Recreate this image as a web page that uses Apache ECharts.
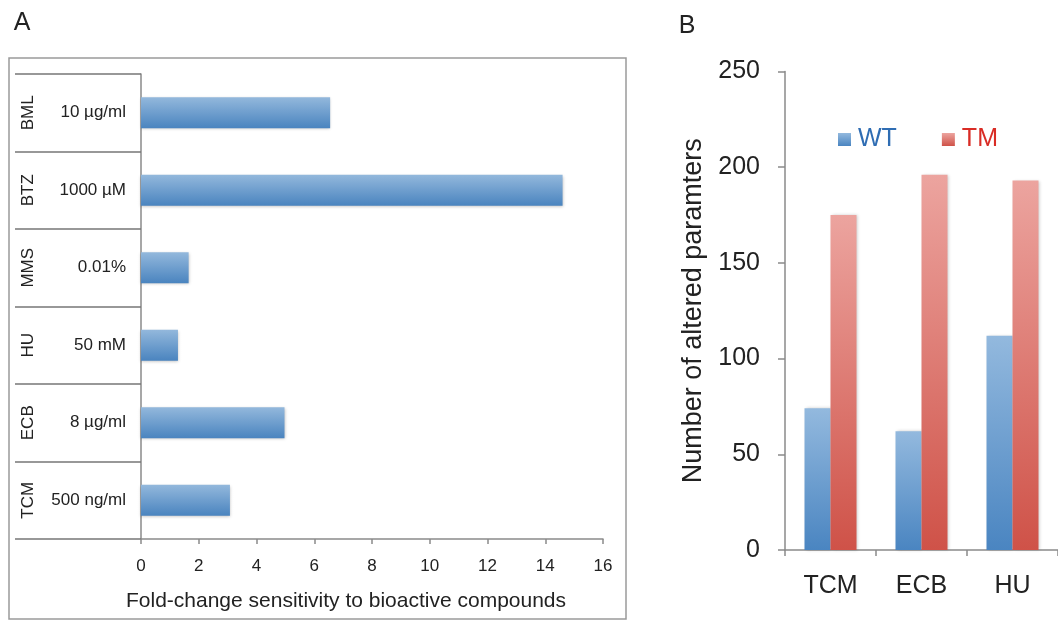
<!DOCTYPE html>
<html>
<head>
<meta charset="utf-8">
<script src="https://cdn.jsdelivr.net/npm/echarts@6/dist/echarts.min.js"></script>
<style>html,body{margin:0;padding:0;background:#fff}#c{width:1058px;height:621px}</style>
</head>
<body>
<div id="c"></div>
<script>
// Panel A data (top to bottom)
const drugsA = ['BML', 'BTZ', 'MMS', 'HU', 'ECB', 'TCM'];
const concA = ['10 µg/ml', '1000 µM', '0.01%', '50 mM', '8 µg/ml', '500 ng/ml'];
const foldChange = [6.55, 14.6, 1.65, 1.28, 4.97, 3.08];
const xTicksA = { min: 0, max: 16, interval: 2 };
// Panel B data
const catsB = ['TCM', 'ECB', 'HU'];
const wtValues = [74, 62, 112];
const tmValues = [175, 196, 193];
const yTicksB = { min: 0, max: 250, interval: 50 };

const FONT = '"Liberation Sans", Arial, Helvetica, sans-serif';
const grad = (c1, c2) => new echarts.graphic.LinearGradient(0, 0, 0, 1, [{offset: 0, color: c1}, {offset: 1, color: c2}]);
const blueA = grad('#93b8dc', '#4a84bf');
const blueB = grad('#93b9de', '#4a85c1');
const redB = grad('#eca49f', '#cf5248');
const axisGrey = '#8a8a8a';

const chart = echarts.init(document.getElementById('c'), null, {renderer: 'canvas'});
chart.setOption({
  animation: false,
  backgroundColor: '#fff',
  textStyle: {fontFamily: FONT},
  grid: [
    {left: 141, right: 455, top: 74, bottom: 82},
    {left: 785, right: 0, top: 71.5, bottom: 71}
  ],
  legend: {
    data: [
      {name: 'WT', textStyle: {color: '#2f6db3'}},
      {name: 'TM', textStyle: {color: '#d92c25'}}
    ],
    left: 833, top: 122, itemWidth: 13, itemHeight: 13, itemGap: 45, icon: 'rect',
    textStyle: {fontSize: 25, fontFamily: FONT, padding: [0, 0, 0, 2]}
  },
  xAxis: [
    {gridIndex: 0, type: 'value', min: xTicksA.min, max: xTicksA.max, interval: xTicksA.interval,
     axisLine: {show: true, lineStyle: {color: axisGrey, width: 1.5}},
     axisTick: {show: true, length: 5, lineStyle: {color: axisGrey, width: 1.5}},
     axisLabel: {fontSize: 17, color: '#222', margin: 19},
     splitLine: {show: false}},
    {gridIndex: 1, type: 'category', data: catsB,
     axisLine: {lineStyle: {color: axisGrey, width: 1.5}},
     axisTick: {show: true, length: 6, lineStyle: {color: axisGrey, width: 1.5}},
     axisLabel: {fontSize: 25, color: '#222', margin: 24}}
  ],
  yAxis: [
    {gridIndex: 0, type: 'category', data: concA, inverse: true,
     axisLine: {show: true, onZero: false, lineStyle: {color: axisGrey, width: 1.5}},
     axisTick: {show: true, length: 126, lineStyle: {color: '#777', width: 1.5}},
     axisLabel: {fontSize: 17, color: '#222', margin: 15}},
    {gridIndex: 0, type: 'category', data: drugsA, inverse: true, position: 'left',
     axisLine: {show: false}, axisTick: {show: false},
     axisLabel: {fontSize: 17, color: '#222', rotate: 90, margin: 113, align: 'center', verticalAlign: 'middle'}},
    {gridIndex: 1, type: 'value', min: yTicksB.min, max: yTicksB.max, interval: yTicksB.interval,
     name: 'Number of altered paramters', nameLocation: 'middle', nameGap: 78,
     nameTextStyle: {fontSize: 27, color: '#222'},
     axisLine: {show: true, lineStyle: {color: axisGrey, width: 1.5}},
     axisTick: {show: true, length: 7, lineStyle: {color: axisGrey, width: 1.5}},
     axisLabel: {fontSize: 25, color: '#222', margin: 25},
     splitLine: {show: false}}
  ],
  series: [
    {type: 'bar', xAxisIndex: 0, yAxisIndex: 0, data: foldChange, barWidth: 31,
     itemStyle: {color: blueA, shadowBlur: 3, shadowColor: 'rgba(0,0,0,0.25)', shadowOffsetY: 1}},
    {name: 'WT', type: 'bar', xAxisIndex: 1, yAxisIndex: 2, data: wtValues, barWidth: 26, barGap: '0%',
     itemStyle: {color: blueB, shadowBlur: 3, shadowColor: 'rgba(0,0,0,0.2)', shadowOffsetX: 1}},
    {name: 'TM', type: 'bar', xAxisIndex: 1, yAxisIndex: 2, data: tmValues, barWidth: 26, barGap: '0%',
     itemStyle: {color: redB, shadowBlur: 3, shadowColor: 'rgba(0,0,0,0.2)', shadowOffsetX: 1}}
  ],
  graphic: [
    {type: 'rect', shape: {x: 9, y: 58, width: 617, height: 561}, style: {fill: 'none', stroke: '#9a9a9a', lineWidth: 1.5}, silent: true, z: -1},
    {type: 'text', x: 22, y: 23, style: {text: 'A', fontSize: 25, fontFamily: FONT, fill: '#222', textAlign: 'center', textVerticalAlign: 'middle'}},
    {type: 'text', x: 687, y: 26, style: {text: 'B', fontSize: 25, fontFamily: FONT, fill: '#222', textAlign: 'center', textVerticalAlign: 'middle'}},
    {type: 'text', x: 346, y: 601, style: {text: 'Fold-change sensitivity to bioactive compounds', fontSize: 21, fontFamily: FONT, fill: '#222', textAlign: 'center', textVerticalAlign: 'middle'}}
  ]
});
</script>
</body>
</html>
